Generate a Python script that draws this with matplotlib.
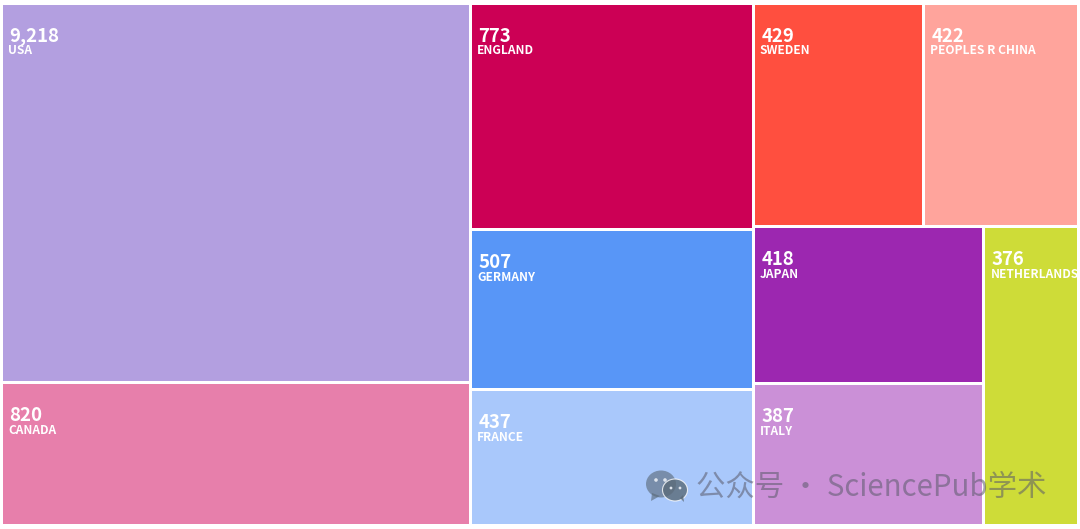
import matplotlib
matplotlib.use("Agg")
import matplotlib.pyplot as plt
from matplotlib.patches import Rectangle, Ellipse, Polygon

plt.rcParams['font.family'] = ['Noto Sans CJK SC', 'DejaVu Sans']

countries = ["USA", "CANADA", "ENGLAND", "GERMANY", "FRANCE", "SWEDEN",
             "PEOPLES R CHINA", "JAPAN", "ITALY", "NETHERLANDS"]
counts = [9218, 820, 773, 507, 437, 429, 422, 418, 387, 376]
# tile areas (the USA tile is not drawn to scale)
tile_weights = [1784, 673, 644, 455, 384, 382, 348, 363, 327, 283]
colors = ["#B39FE0", "#E77FAB", "#CC0055", "#5896F7", "#A9C8FB",
          "#FF4F3F", "#FFA49C", "#9C27B0", "#CB90D7", "#CEDC38"]
watermark = "公众号 · SciencePub学术"

# nested treemap: (direction, children); leaves are indices into the lists
tree = ("h", [("v", [0, 1]),
              ("v", [2, 3, 4]),
              ("v", [("h", [5, 6]),
                     ("h", [("v", [7, 8]), 9])])])

fig = plt.figure(figsize=(10.8, 5.29), dpi=100, facecolor="white")
ax = fig.add_axes([0, 0, 1, 1])
ax.set_xlim(0, 1080)
ax.set_ylim(529, 0)
ax.axis("off")

GAP = 1.5


def weight(node):
    if isinstance(node, int):
        return tile_weights[node]
    return sum(weight(c) for c in node[1])


def draw(node, x0, y0, x1, y1):
    if isinstance(node, int):
        ax.add_patch(Rectangle((x0 + GAP, y0 + GAP), x1 - x0 - 2 * GAP, y1 - y0 - 2 * GAP,
                               facecolor=colors[node], edgecolor="none", zorder=1))
        ax.text(x0 + 8, y0 + 33, f"{counts[node]:,}", color="white", fontsize=13.4,
                fontweight="bold", ha="left", va="center", zorder=2)
        ax.text(x0 + 6.5, y0 + 48, countries[node], color="white", fontsize=8.6,
                fontweight="bold", ha="left", va="center", zorder=2)
        return
    direction, children = node
    total = weight(node)
    pos = x0 if direction == "h" else y0
    span = (x1 - x0) if direction == "h" else (y1 - y0)
    for child in children:
        size = span * weight(child) / total
        if direction == "h":
            draw(child, pos, y0, pos + size, y1)
        else:
            draw(child, x0, pos, x1, pos + size)
        pos += size


draw(tree, 1.5, 3.0, 1078.5, 525.0)

# watermark
mark = "#5A6A78"
ax.add_patch(Ellipse((661, 484), 30, 27, facecolor=mark, alpha=0.62, edgecolor="none", zorder=3))
ax.add_patch(Polygon([(652, 493), (651, 501), (660, 496)], facecolor=mark, alpha=0.62,
                     edgecolor="none", zorder=3))
ax.add_patch(Ellipse((675, 490), 25, 22, facecolor=mark, alpha=0.8, edgecolor="white",
                     linewidth=0.8, zorder=4))
ax.add_patch(Polygon([(680, 498), (684, 502), (683, 495)], facecolor=mark, alpha=0.8,
                     edgecolor="none", zorder=4))
for ex, ey, er in [(656, 480, 1.8), (665, 480, 1.8), (671, 488, 1.4), (680, 488, 1.4)]:
    ax.add_patch(Ellipse((ex, ey), er * 2, er * 2, facecolor="#DDE3EC", edgecolor="none", zorder=5))
ax.text(696, 487, watermark, color="#5A5A6A", alpha=0.55, fontsize=21.2, ha="left",
        va="center", zorder=3)

fig.savefig("out.png", dpi=100, facecolor="white")
